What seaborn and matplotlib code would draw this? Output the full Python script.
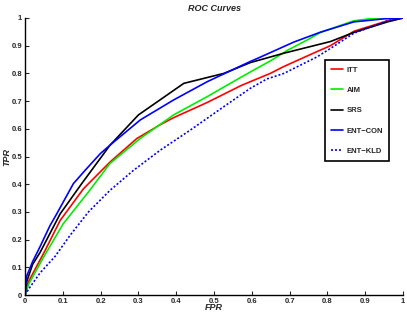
import matplotlib
matplotlib.use("Agg")
import matplotlib.pyplot as plt
import seaborn as sns
import pandas as pd

itt_fpr = [0, .01, .053, .093, .155, .225, .296, .358, .393, .482, .57, .596, .649, .685, .773, .808, .87, .959, 1]
itt_tpr = [0, .05, .16, .269, .384, .48, .565, .615, .64, .695, .755, .77, .80, .825, .879, .90, .952, .99, 1]

aim_fpr = [0, .01, .049, .101, .168, .225, .305, .393, .482, .57, .596, .649, .694, .747, .782, .87, .93, 1]
aim_tpr = [0, .04, .136, .257, .372, .475, .565, .65, .716, .785, .805, .845, .883, .921, .948, .99, 1.0, 1]

srs_fpr = [0, .005, .02, .04, .093, .15, .225, .30, .42, .526, .596, .685, .808, .87, .959, 1]
srs_tpr = [0, .05, .11, .154, .293, .402, .541, .65, .764, .80, .839, .873, .915, .948, .986, 1]

con_fpr = [0, .005, .02, .04, .066, .084, .128, .159, .199, .225, .305, .393, .482, .596, .623, .711, .782, .87, .95, 1]
con_tpr = [0, .07, .12, .175, .25, .293, .402, .45, .51, .541, .632, .704, .77, .843, .859, .913, .949, .986, .997, 1]

kld_fpr = [0, .013, .04, .08, .119, .168, .225, .287, .358, .437, .526, .596, .64, .685, .773, .808, .87, .959, 1]
kld_tpr = [0, .028, .08, .14, .215, .30, .378, .45, .523, .595, .68, .746, .78, .80, .86, .89, .945, .99, 1]

names = ["ITT", "AIM", "SRS", "ENT\u2212CON", "ENT\u2212KLD"]
colors = ["#ff0000", "#00ee00", "#000000", "#0000ff", "#0000ff"]
series = [(itt_fpr, itt_tpr), (aim_fpr, aim_tpr), (srs_fpr, srs_tpr),
          (con_fpr, con_tpr), (kld_fpr, kld_tpr)]

rows = []
for n, (xs, ys) in zip(names, series):
    for x, y in zip(xs, ys):
        rows.append({"FPR": x, "TPR": y, "method": n})
df = pd.DataFrame(rows)

sns.set_style("ticks")
plt.rcParams['font.family'] = ['Liberation Sans', 'DejaVu Sans']

fig = plt.figure(figsize=(4.07, 3.15), dpi=100)
ax = fig.add_axes([25/407, 20/315, 378/407, 277/315])

sns.lineplot(data=df, x="FPR", y="TPR", hue="method", style="method",
             palette=dict(zip(names, colors)),
             dashes={names[0]: "", names[1]: "", names[2]: "", names[3]: "", names[4]: (1.2, 1.2)},
             estimator=None, sort=False, linewidth=1.2, ax=ax)

ax.set_xlim(0, 1)
ax.set_ylim(0, 1)
ticks = [i / 10 for i in range(11)]
labels = ["0"] + [f"{t:.1f}" for t in ticks[1:-1]] + ["1"]
ax.set_xticks(ticks)
ax.set_xticklabels(labels)
ax.set_yticks(ticks)
ax.set_yticklabels(labels)
ax.tick_params(direction="in", length=3, width=0.8, labelsize=5.5, pad=2)
for lab in ax.get_xticklabels() + ax.get_yticklabels():
    lab.set_fontweight("bold")
for s in ["top", "right"]:
    ax.spines[s].set_visible(False)
for s in ["left", "bottom"]:
    ax.spines[s].set_linewidth(1.0)
    ax.spines[s].set_color("black")

ax.set_title("ROC Curves", fontsize=6.5, fontstyle="italic", fontweight="bold", pad=5)
ax.set_xlabel("FPR", fontsize=6.5, fontstyle="italic", fontweight="bold", labelpad=-1)
ax.set_ylabel("TPR", fontsize=6.5, fontstyle="italic", fontweight="bold", labelpad=0)
ax.yaxis.set_label_coords(-0.037, 0.5)

leg = ax.legend(loc="upper right", bbox_to_anchor=(0.963, 0.848), fontsize=5.5,
                handlelength=1.6, handletextpad=0.4, labelspacing=1.7,
                borderpad=0.8, borderaxespad=0, fancybox=False, framealpha=1,
                edgecolor="black", title=None)
leg.get_frame().set_linewidth(1.2)
for t in leg.get_texts():
    t.set_fontweight("bold")

fig.savefig("out.png", dpi=100)
